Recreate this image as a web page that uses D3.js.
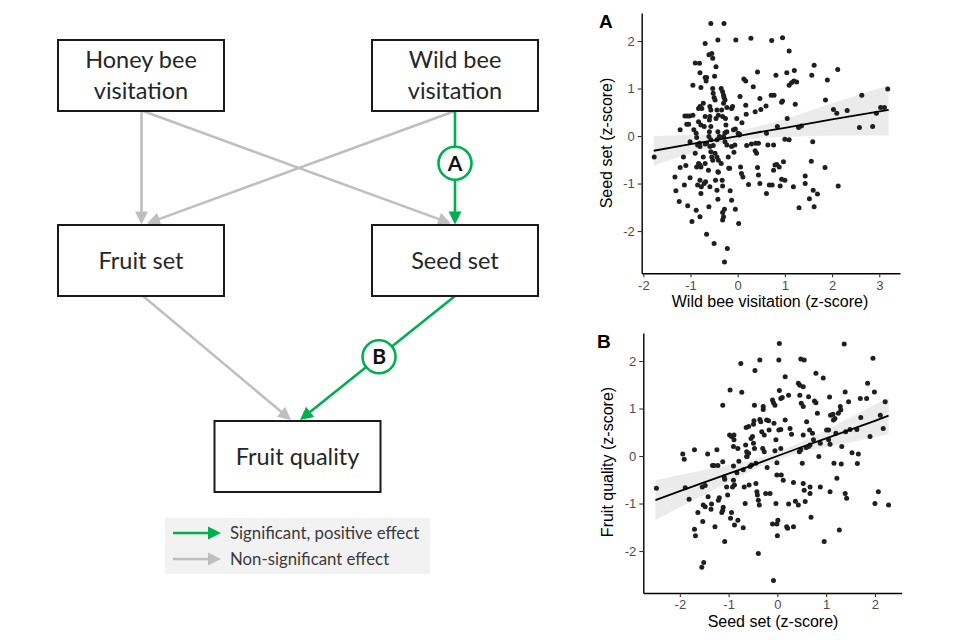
<!DOCTYPE html>
<html>
<head>
<meta charset="utf-8">
<script src="https://cdn.jsdelivr.net/npm/d3@7"></script>
<style>
  html, body { margin: 0; padding: 0; background: #fff; }
  svg { display: block; }
</style>
</head>
<body>
<svg id="chart" width="960" height="640"></svg>
<script>
// ---------------- DATA ----------------
// Path diagram
const nodeLabels = [
  ["Honey bee", "visitation"],
  ["Wild bee", "visitation"],
  ["Fruit set"],
  ["Seed set"],
  ["Fruit quality"]
];
// links: [from, to, significant, panel label]
const pathLinks = [
  [0, 2, false, ""],
  [0, 3, false, ""],
  [1, 2, false, ""],
  [1, 3, true, "A"],
  [2, 4, false, ""],
  [3, 4, true, "B"]
];
const legendLabels = ["Significant, positive effect", "Non-significant effect"];

// Panel A: wild bee visitation (x) vs seed set (y), z-scores
const panelAPoints = [
  [-1.77,-0.44],[-1.22,0.13],[-1.33,-0.86],[-1.31,-1.15],[-1.24,-1.38],[-1.22,-0.66],[-1.15,-0.44],[-1.13,-1.03],
  [-1.10,-0.62],[-1.12,0.42],[-1.07,0.42],[-1.08,0.25],[-1.06,-1.47],[-1.01,-0.88],[-1.04,0.25],[-1.02,0.42],
  [-0.97,-1.80],[-1.01,-0.12],[-0.95,1.07],[-0.95,0.44],[-0.93,0.13],[-0.90,1.54],[-0.88,-1.56],[-0.90,-0.36],
  [-0.88,0.06],[-0.87,-0.03],[-0.85,-0.19],[-0.87,-0.65],[-0.85,-1.03],[-0.81,1.53],[-0.80,1.33],[-0.78,1.02],
  [-0.83,0.58],[-0.80,0.62],[-0.76,0.58],[-0.83,0.30],[-0.78,0.23],[-0.81,-0.15],[-0.80,-0.22],[-0.83,-0.58],
  [-0.80,-0.61],[-0.78,-0.65],[-0.80,-0.93],[-0.77,-1.07],[-0.78,-1.21],[-0.80,-1.70],[-0.73,-0.44],[-0.69,1.95],
  [-0.69,1.23],[-0.66,1.23],[-0.67,1.16],[-0.73,0.69],[-0.69,0.41],[-0.71,0.20],[-0.69,-0.17],[-0.66,-0.15],
  [-0.69,-0.58],[-0.71,-1.00],[-0.68,-0.96],[-0.66,-2.07],[-0.61,-1.49],[-0.62,-0.72],[-0.59,0.62],[-0.57,0.55],
  [-0.59,0.41],[-0.60,0.34],[-0.57,0.20],[-0.60,0.09],[-0.61,-0.01],[-0.57,-0.08],[-0.59,-0.22],[-0.57,-0.33],
  [-0.55,-0.44],[-0.53,-0.51],[-0.59,-1.07],[-0.50,-2.26],[-0.57,2.37],[-0.61,1.71],[-0.55,1.74],[-0.53,1.64],
  [-0.49,1.26],[-0.46,1.46],[-0.42,2.02],[-0.29,2.37],[-0.53,1.00],[-0.52,0.90],[-0.50,0.81],[-0.48,0.76],
  [-0.44,0.55],[-0.41,0.44],[-0.46,0.37],[-0.42,0.09],[-0.39,-0.01],[-0.44,-0.08],[-0.52,-0.20],[-0.48,-0.36],
  [-0.44,-0.44],[-0.41,-0.51],[-0.47,-0.93],[-0.42,-0.75],[-0.41,-0.76],[-0.44,-1.14],[-0.42,-1.33],[-0.35,1.00],
  [-0.32,0.93],[-0.30,0.86],[-0.29,0.81],[-0.27,0.76],[-0.30,0.69],[-0.34,0.55],[-0.32,0.41],[-0.26,0.37],
  [-0.23,0.09],[-0.27,0.07],[-0.30,-0.01],[-0.27,-0.12],[-0.23,-0.19],[-0.35,-0.58],[-0.33,-0.93],[-0.32,-1.05],
  [-0.32,-1.61],[-0.30,-1.70],[-0.32,-1.77],[-0.28,-1.54],[-0.22,-2.37],[-0.28,-2.65],[-0.23,0.60],[-0.25,0.23],
  [-0.20,-0.44],[-0.19,-0.68],[-0.17,-0.68],[-0.16,-1.15],[-0.13,-1.35],[-0.13,0.58],[-0.11,0.62],[-0.13,-0.22],
  [-0.08,-0.34],[-0.06,-0.19],[-0.04,2.02],[-0.05,-1.54],[0.02,-1.84],[-0.09,0.13],[-0.05,0.15],[-0.02,0.37],
  [0.01,0.06],[0.03,0.02],[0.04,0.04],[0.05,0.83],[0.09,0.28],[0.13,1.20],[0.17,1.16],[0.17,0.65],
  [0.18,0.46],[0.06,-0.65],[0.08,-0.79],[0.11,-0.86],[0.19,-0.20],[0.23,-1.02],[0.28,2.06],[0.29,-0.17],
  [0.33,1.04],[0.38,-0.15],[0.40,-0.36],[0.37,-0.31],[0.37,0.51],[0.42,1.35],[0.47,0.79],[0.49,0.56],
  [0.44,-0.15],[0.42,-0.66],[0.44,-0.82],[0.47,-1.00],[0.60,0.63],[0.61,0.06],[0.61,-1.21],[0.64,-0.19],
  [0.71,0.86],[0.77,0.86],[0.72,2.01],[0.76,-0.72],[0.79,-0.61],[0.76,-0.19],[0.67,-1.03],[0.73,-1.03],
  [0.81,1.28],[0.84,0.20],[0.83,-0.60],[0.88,-0.65],[0.90,-1.05],[0.93,0.71],[0.95,0.74],[0.93,-0.91],
  [0.95,2.07],[0.97,-0.54],[1.00,-0.93],[1.04,1.33],[1.09,1.79],[1.05,0.37],[1.00,-0.07],[1.09,-0.08],
  [1.09,1.07],[1.14,1.12],[1.19,1.16],[1.25,1.14],[1.18,-1.07],[1.20,1.38],[1.22,0.67],[1.29,0.18],
  [1.35,0.21],[1.30,-1.51],[1.43,-0.84],[1.43,-1.00],[1.52,-1.32],[1.56,-0.53],[1.57,1.28],[1.62,1.49],
  [1.59,-0.12],[1.60,-1.14],[1.62,-1.49],[1.69,-1.22],[1.85,-0.66],[1.86,0.76],[1.90,1.18],[2.03,0.56],
  [2.12,1.40],[2.10,0.48],[2.13,-1.05],[2.32,0.54],[2.58,0.18],[2.63,0.86],[2.86,0.20],[2.94,0.48],
  [3.03,0.60],[3.11,0.60],[3.18,0.99]
];
// Panel A fitted line and confidence band
const fitAX     = [-1.78, -1.0, -0.5, 0.0, 0.5, 1.0, 2.0, 3.2];
const fitAY     = [-0.31, -0.17, -0.09, 0.00, 0.09, 0.17, 0.35, 0.55];
const fitALower = [-0.62, -0.36, -0.22, -0.10, -0.04, -0.02, 0.01, 0.01];
const fitAUpper = [0.00, 0.02, 0.04, 0.10, 0.22, 0.36, 0.69, 1.07];

// Panel B: seed set (x) vs fruit quality (y), z-scores
const panelBPoints = [
  [-2.48,-0.68],[-1.94,0.04],[-1.91,-0.07],[-1.89,-0.67],[-1.81,-0.91],[-1.70,0.13],[-1.70,-1.54],[-1.68,-1.68],
  [-1.63,-1.19],[-1.51,-2.24],[-1.55,-2.34],[-1.54,-0.65],[-1.53,-1.38],[-1.52,-1.03],[-1.48,-1.07],[-1.48,-0.62],
  [-1.43,0.04],[-1.42,-0.86],[-1.36,-1.12],[-1.35,-1.01],[-1.33,-0.20],[-1.30,-0.20],[-1.28,-1.49],[-1.24,0.13],
  [-1.22,-0.20],[-1.21,-0.93],[-1.19,-0.88],[-1.14,-1.19],[-1.12,-1.14],[-1.11,-1.08],[-1.12,1.07],[-1.12,-0.12],
  [-1.09,-0.44],[-1.08,-0.49],[-1.08,-1.80],[-1.04,-0.65],[-1.02,-0.82],[-0.97,1.39],[-0.98,0.44],[-0.94,0.41],
  [-0.89,0.44],[-0.96,-1.31],[-0.94,-1.19],[-0.90,-0.21],[-0.90,-0.51],[-0.88,-0.61],[-0.92,-0.65],[-0.89,0.34],
  [-0.90,0.20],[-0.88,-1.45],[-0.81,0.16],[-0.83,-0.35],[-0.81,-1.35],[-0.79,-0.11],[-0.75,1.95],[-0.73,1.34],
  [-0.70,-0.29],[-0.70,-1.51],[-0.68,-0.65],[-0.66,-1.00],[-0.65,0.23],[-0.63,0.09],[-0.63,-0.01],[-0.64,0.60],
  [-0.59,0.62],[-0.62,-0.01],[-0.59,0.06],[-0.58,-0.61],[-0.56,-0.22],[-0.53,-0.19],[-0.54,0.37],[-0.51,0.41],
  [-0.49,0.27],[-0.47,0.16],[-0.49,0.67],[-0.48,0.74],[-0.46,1.80],[-0.47,1.07],[-0.44,-0.15],[-0.44,-0.58],
  [-0.42,-0.75],[-0.41,-0.82],[-0.39,-2.05],[-0.36,2.02],[-0.39,-0.93],[-0.37,-1.03],[-0.36,0.77],[-0.34,0.72],
  [-0.32,0.51],[-0.29,1.04],[-0.29,0.98],[-0.30,0.16],[-0.27,0.09],[-0.27,0.44],[-0.24,-0.79],[-0.22,0.76],
  [-0.18,0.74],[-0.21,-0.24],[-0.17,0.55],[-0.15,-0.79],[-0.10,1.18],[-0.08,1.12],[-0.07,0.69],[-0.05,1.07],
  [-0.03,0.34],[-0.01,-0.14],[0.01,-1.35],[-0.01,-1.43],[-0.03,-1.00],[-0.05,0.11],[-0.01,-0.40],[0.03,2.02],
  [0.04,2.37],[0.04,1.38],[0.07,1.21],[0.10,1.23],[0.03,0.55],[0.07,0.56],[0.07,0.16],[0.08,-0.40],
  [-0.08,-2.62],[-0.10,-1.43],[0.00,-1.68],[0.12,-0.51],[0.16,1.67],[0.19,-1.49],[0.21,-1.52],[0.23,-1.01],
  [0.16,0.76],[0.23,1.28],[0.26,0.58],[0.29,0.46],[0.33,-0.56],[0.33,-1.49],[0.37,-0.95],[0.43,1.53],
  [0.46,1.49],[0.43,-1.03],[0.45,0.09],[0.48,0.13],[0.46,1.28],[0.48,2.04],[0.49,1.11],[0.51,-0.15],
  [0.53,0.44],[0.55,2.02],[0.53,1.46],[0.53,1.04],[0.53,-0.58],[0.55,-0.72],[0.57,-0.96],[0.59,0.18],
  [0.60,0.72],[0.64,1.25],[0.64,0.20],[0.67,0.23],[0.66,0.55],[0.67,-0.65],[0.67,-0.79],[0.69,-1.29],
  [0.72,0.48],[0.74,0.34],[0.79,1.74],[0.76,1.16],[0.79,1.12],[0.82,0.90],[0.85,-0.01],[0.88,-0.65],
  [0.88,0.27],[0.94,1.64],[0.96,-1.80],[1.01,0.55],[1.05,0.55],[1.05,0.34],[1.08,0.25],[1.07,1.24],
  [1.08,-0.75],[1.09,0.86],[1.14,0.88],[1.15,0.76],[1.16,-0.15],[1.18,0.79],[1.20,0.48],[1.22,-0.47],
  [1.25,0.90],[1.27,-1.56],[1.29,1.04],[1.30,0.97],[1.32,0.20],[1.31,-0.17],[1.37,2.36],[1.39,1.35],
  [1.40,0.51],[1.39,-0.79],[1.42,-0.89],[1.46,1.14],[1.49,0.56],[1.53,0.07],[1.66,0.04],[1.64,-0.16],
  [1.63,0.56],[1.70,1.21],[1.71,0.81],[1.83,1.21],[1.85,1.53],[1.90,0.41],[1.96,2.06],[1.99,1.35],
  [2.00,-1.00],[2.07,-0.75],[2.11,0.86],[2.17,0.58],[2.21,1.14],[2.28,-1.03]
];
const fitBX     = [-2.5, -2.0, -1.0, -0.5, 0.0, 0.5, 1.0, 2.0, 2.28];
const fitBY     = [-0.93, -0.74, -0.37, -0.19, 0.00, 0.19, 0.37, 0.74, 0.85];
const fitBLower = [-1.35, -1.08, -0.55, -0.30, -0.08, 0.08, 0.19, 0.40, 0.47];
const fitBUpper = [-0.51, -0.40, -0.19, -0.08, 0.08, 0.30, 0.55, 1.08, 1.23];

const xTicksA = [-2, -1, 0, 1, 2, 3];
const yTicksA = [-2, -1, 0, 1, 2];
const xTicksB = [-2, -1, 0, 1, 2];
const yTicksB = [-2, -1, 0, 1, 2];

// ---------------- STYLE / LAYOUT ----------------
const GREEN = "#00b050";
const GREY = "#bfbfbf";
const FONT_DIAG = "Lato, Carlito, 'Open Sans', sans-serif";
const FONT_PLOT = "'Liberation Sans', Arial, Helvetica, sans-serif";

const svg = d3.select("#chart");
svg.append("rect").attr("width", 960).attr("height", 640).attr("fill", "#fff");

// Diagram layout
const boxW = 166, boxH = 71;
const boxPos = [[58, 40], [372, 40], [58, 225], [372, 225], [214.5, 421]];
// link endpoints [x1,y1,x2,y2]
const linkGeom = [
  [141.5, 111, 141.5, 224.5],
  [143, 111, 451, 223.5],
  [455, 111, 147, 223.5],
  [455, 111, 455, 224.5],
  [143, 296, 291, 420],
  [455, 296, 300, 420]
];
const badgeT = { "A": 0.46, "B": 0.49 };

const diag = svg.append("g");

function arrow(g, x1, y1, x2, y2, color, width, headLen, headW) {
  const dx = x2 - x1, dy = y2 - y1, L = Math.hypot(dx, dy);
  const ux = dx / L, uy = dy / L;
  const bx = x2 - ux * headLen, by = y2 - uy * headLen;
  g.append("line")
    .attr("x1", x1).attr("y1", y1).attr("x2", bx + ux * 1).attr("y2", by + uy * 1)
    .attr("stroke", color).attr("stroke-width", width);
  const px = -uy, py = ux;
  g.append("path")
    .attr("d", `M${x2},${y2}L${bx + px * headW / 2},${by + py * headW / 2}L${bx - px * headW / 2},${by - py * headW / 2}Z`)
    .attr("fill", color);
}

// links (non-significant first, then significant)
const order = pathLinks.map((d, i) => i).sort((a, b) => (pathLinks[a][2] ? 1 : 0) - (pathLinks[b][2] ? 1 : 0));
order.forEach(i => {
  const [from, to, sig, lab] = pathLinks[i];
  const [x1, y1, x2, y2] = linkGeom[i];
  arrow(diag, x1, y1, x2, y2, sig ? GREEN : GREY, 2.6, 13, 13);
  if (lab) {
    const t = badgeT[lab];
    const cx = x1 + (x2 - x1) * t, cy = y1 + (y2 - y1) * t;
    diag.append("circle").attr("cx", cx).attr("cy", cy).attr("r", 16.5)
      .attr("fill", "#fff").attr("stroke", GREEN).attr("stroke-width", 2.6);
    diag.append("text").attr("x", cx).attr("y", cy + 7.5)
      .attr("text-anchor", "middle").attr("font-family", FONT_DIAG)
      .attr("font-weight", 700).attr("font-size", 21).attr("fill", "#111").text(lab);
  }
});

// boxes
nodeLabels.forEach((lines, i) => {
  const [bx, by] = boxPos[i];
  diag.append("rect").attr("x", bx).attr("y", by).attr("width", boxW).attr("height", boxH)
    .attr("fill", "#fff").attr("stroke", "#1a1a1a").attr("stroke-width", 2);
  const cx = bx + boxW / 2, cy = by + boxH / 2;
  const lh = 31;
  lines.forEach((s, j) => {
    diag.append("text")
      .attr("x", cx)
      .attr("y", cy + (j - (lines.length - 1) / 2) * lh + 8)
      .attr("text-anchor", "middle").attr("font-family", FONT_DIAG)
      .attr("font-size", 23.5).attr("fill", "#262626").text(s);
  });
});

// legend
const leg = svg.append("g");
leg.append("rect").attr("x", 165).attr("y", 518).attr("width", 265).attr("height", 56).attr("fill", "#f2f2f2");
legendLabels.forEach((s, i) => {
  const y = 533 + i * 26;
  arrow(leg, 173, y, 221, y, i === 0 ? GREEN : GREY, 2.6, 13, 13);
  leg.append("text").attr("x", 230).attr("y", y + 5.5)
    .attr("font-family", FONT_DIAG).attr("font-size", 16.8).attr("fill", "#3a3a3a").text(s);
});

// ---------------- SCATTER PANELS ----------------
function panel(cfg) {
  const g = svg.append("g");
  const x = d3.scaleLinear().domain(cfg.xDomain).range([cfg.left, cfg.right]);
  const y = d3.scaleLinear().domain(cfg.yDomain).range([cfg.bottom, cfg.top]);

  // ribbon
  const band = cfg.fitX.map((v, i) => ({ x: v, lo: cfg.lower[i], hi: cfg.upper[i], m: cfg.fitY[i] }));
  g.append("path").datum(band)
    .attr("d", d3.area().x(d => x(d.x)).y0(d => y(d.lo)).y1(d => y(d.hi)).curve(d3.curveMonotoneX))
    .attr("fill", "#ebebeb");

  // points
  g.append("g").selectAll("circle").data(cfg.points).join("circle")
    .attr("cx", d => x(d[0])).attr("cy", d => y(d[1])).attr("r", 2.5)
    .attr("fill", "#1f1f1f");

  // fit line
  g.append("path").datum(band)
    .attr("d", d3.line().x(d => x(d.x)).y(d => y(d.m)))
    .attr("fill", "none").attr("stroke", "#000").attr("stroke-width", 1.8);

  // axes
  const ax = g.append("g").attr("transform", `translate(0,${cfg.bottom})`)
    .call(d3.axisBottom(x).tickValues(cfg.xTicks).tickSize(4).tickSizeOuter(0).tickPadding(3).tickFormat(d => String(d)));
  const ay = g.append("g").attr("transform", `translate(${cfg.left},0)`)
    .call(d3.axisLeft(y).tickValues(cfg.yTicks).tickSize(4).tickSizeOuter(0).tickPadding(3).tickFormat(d => String(d)));
  [ax, ay].forEach(a => {
    a.select(".domain").attr("stroke", "#000").attr("stroke-width", 1.4);
    a.selectAll(".tick line").attr("stroke", "#333").attr("stroke-width", 1.1);
    a.selectAll(".tick text").attr("fill", "#4d4d4d").attr("font-size", 13).attr("font-family", FONT_PLOT);
  });

  // titles
  g.append("text").attr("x", cfg.xTitlePos[0]).attr("y", cfg.xTitlePos[1])
    .attr("text-anchor", "middle").attr("font-family", FONT_PLOT).attr("font-size", 16)
    .attr("fill", "#000").text(cfg.xTitle);
  g.append("text").attr("transform", `translate(${cfg.yTitlePos[0]},${cfg.yTitlePos[1]}) rotate(-90)`)
    .attr("text-anchor", "middle").attr("font-family", FONT_PLOT).attr("font-size", 16)
    .attr("fill", "#000").text(cfg.yTitle);
  g.append("text").attr("x", cfg.tagPos[0]).attr("y", cfg.tagPos[1])
    .attr("font-family", FONT_PLOT).attr("font-weight", 700).attr("font-size", 19)
    .attr("fill", "#000").text(cfg.tag);
}

panel({
  points: panelAPoints, fitX: fitAX, fitY: fitAY, lower: fitALower, upper: fitAUpper,
  xDomain: [-2.035, 3.44], yDomain: [-2.89, 2.59],
  left: 641.7, right: 900, top: 13, bottom: 273.3,
  xTicks: xTicksA, yTicks: yTicksA,
  xTitle: "Wild bee visitation (z-score)", yTitle: "Seed set (z-score)",
  xTitlePos: [770, 307], yTitlePos: [612, 143], tag: "A", tagPos: [599, 28]
});

panel({
  points: panelBPoints, fitX: fitBX, fitY: fitBY, lower: fitBLower, upper: fitBUpper,
  xDomain: [-2.749, 2.549], yDomain: [-2.884, 2.59],
  left: 643.3, right: 901.7, top: 333, bottom: 593,
  xTicks: xTicksB, yTicks: yTicksB,
  xTitle: "Seed set (z-score)", yTitle: "Fruit quality (z-score)",
  xTitlePos: [773, 627], yTitlePos: [612.5, 462], tag: "B", tagPos: [597, 348]
});
</script>
</body>
</html>
